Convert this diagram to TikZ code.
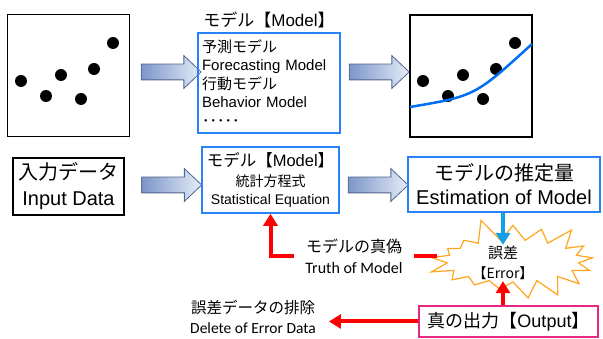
\documentclass[tikz,border=0pt]{standalone}
\usepackage{fontspec}
\setmainfont{Liberation Sans}
\newfontfamily\jpfont{Noto Sans CJK JP}
\newfontfamily\calfont{Carlito}
\usepackage{xcolor}
\usetikzlibrary{arrows.meta, positioning, shapes.arrows, shapes.symbols}
\definecolor{arrowedge}{RGB}{80,100,140}
\definecolor{arrowdark}{RGB}{125,150,200}
\definecolor{arrowlight}{RGB}{228,236,248}
\definecolor{boxblue}{RGB}{40,130,250}
\definecolor{downblue}{RGB}{20,160,230}
\definecolor{curveblue}{RGB}{0,110,240}
\definecolor{burstorange}{RGB}{255,165,30}
\definecolor{outpink}{RGB}{230,40,130}

\begin{document}
\begin{tikzpicture}[x=1pt, y=-1pt,
      plotbox/.style={draw, line width=1.5pt, minimum size=122pt, inner sep=0pt},
      bluebox/.style={draw=boxblue, line width=1.6pt, inner sep=3pt},
      fatarrow/.style={single arrow, draw=arrowedge, line width=0.8pt,
        left color=arrowdark, right color=arrowlight,
        inner xsep=0pt, inner ysep=7.5pt,
        minimum height=60pt, minimum width=32pt,
        single arrow head extend=8.5pt, single arrow tip angle=87},
      redarr/.style={-{Triangle[width=14pt,length=12pt]}, draw=red, line width=4pt},
      bluearr/.style={-{Triangle[width=14pt,length=12pt]}, draw=downblue, line width=4pt}
    ]
    \useasboundingbox (0,0) rectangle (603,339);

    % top row
    \node[plotbox] (plotA) at (68.5,75.5) {};
    \node[fatarrow] (arrA) at (167,72) {};
    \node[font=\fontsize{17}{20}\selectfont] (titleA) at (269,20) {{\jpfont モデル【}Model{\jpfont 】}};
    \node[bluebox, minimum width=142pt, minimum height=100pt, text width=134pt,
      align=left, font=\fontsize{15}{18.5}\selectfont] (modelA) at (269,83)
      {{\jpfont 予測モデル}\\Forecasting Model\\{\jpfont 行動モデル}\\Behavior Model\\{\jpfont ･････}};
    \node[fatarrow] (arrB) at (375,72) {};
    \node[plotbox] (plotB) at (471,76) {};

    \foreach \px/\py in {21/81, 46/96, 61/75, 81/99, 94/69, 113/43} {
      \fill (\px,\py) circle (6pt);
      \fill (\px+402,\py) circle (6pt);
    }
    \draw[curveblue, line width=2.5pt] (410,107) .. controls (475,96) .. (532,44);

    % middle row
    \node[draw, line width=2pt, minimum width=111pt, minimum height=57pt, align=center,
      font=\fontsize{20}{26}\selectfont] (input) at (68.5,186.5) {{\jpfont 入力データ}\\Input Data};
    \node[fatarrow] (arrC) at (167.5,185) {};
    \node[bluebox, minimum width=137pt, minimum height=66pt, align=center,
      font=\fontsize{14}{18}\selectfont] (modelB) at (270.5,180)
      {{\fontsize{16.5}{20}\selectfont\jpfont モデル【}{\fontsize{16.5}{20}\selectfont Model}{\fontsize{16.5}{20}\selectfont\jpfont 】}\\[2pt]
       {\jpfont 統計方程式}\\Statistical Equation};
    \node[fatarrow] (arrD) at (374,185) {};
    \node[bluebox, minimum width=192pt, minimum height=55pt, align=center,
      font=\fontsize{20}{24}\selectfont] (est) at (504,184.5) {{\jpfont モデルの推定量}\\Estimation of Model};

    % error part
    \node[starburst, draw=burstorange, line width=1.2pt, fill=white,
      minimum width=180pt, minimum height=90pt, starburst points=17,
      starburst point height=24pt, random starburst=5] (burst) at (513,261) {};
    \node[align=center, inner sep=1pt, font=\fontsize{15}{20}\selectfont\jpfont] (err) at (503,263)
      {\jpfont 誤差\\{\fontsize{14}{20}\selectfont\jpfont 【Error】}};
    \node[draw=outpink, line width=1.6pt, minimum width=179pt, minimum height=31pt,
      font=\fontsize{18}{22}\selectfont] (output) at (508.5,321.5) {{\jpfont 真の出力【}Output{\jpfont 】}};
    \node[align=center, inner xsep=11pt, inner ysep=0pt, font=\fontsize{16}{21}\selectfont] (truth) at (354,256)
      {{\jpfont モデルの真偽}\\{\calfont Truth of Model}};
    \node[align=center, inner xsep=13pt, inner ysep=0pt, font=\fontsize{15.5}{20}\selectfont] (del) at (253,317)
      {{\jpfont 誤差データの排除}\\{\calfont Delete of Error Data}};
    \coordinate (dashEnd) at (437,256);

    \draw[bluearr] (err.north |- est.south) -- (err.north);
    \draw[redarr] (err.south |- output.north) -- (err.south);
    \draw[redarr] (truth.west) -| (modelB.south);
    \draw[red, line width=4pt] (truth.east) -- (dashEnd);
    \draw[redarr] (output.west) -- (output.west -| del.east);
  \end{tikzpicture}
\end{document}
